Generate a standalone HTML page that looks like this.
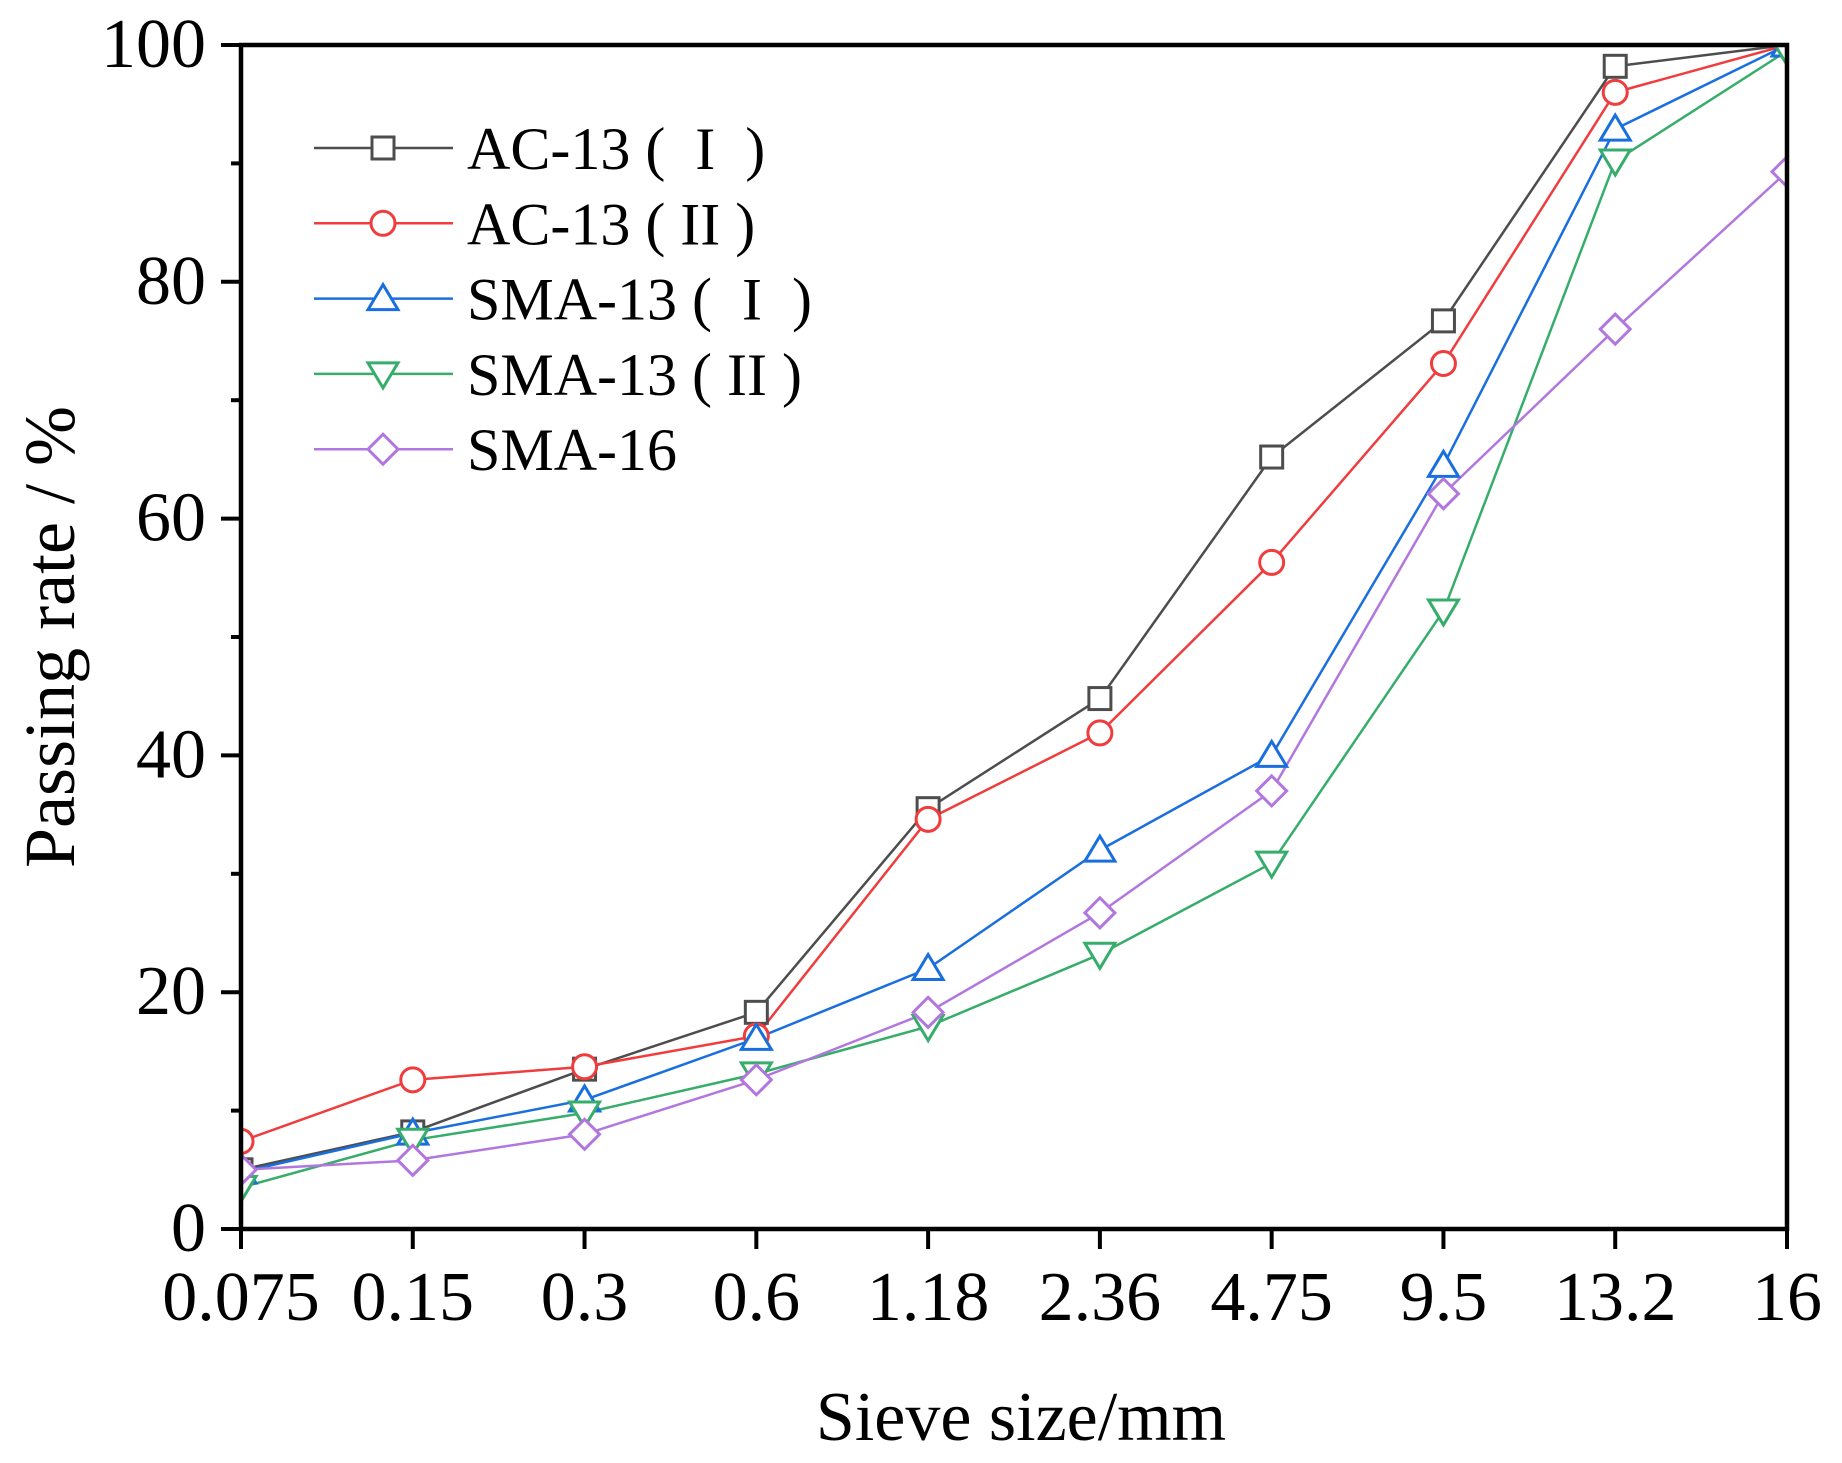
<!DOCTYPE html>
<html><head><meta charset="utf-8"><style>
html,body{margin:0;padding:0;background:#fff;}
svg{display:block;}
text{font-family:"Liberation Serif",serif;fill:#000;}
</style></head><body>
<svg id="s" width="1842" height="1463" xmlns="http://www.w3.org/2000/svg">
<defs><clipPath id="c"><rect x="243" y="47" width="1542" height="1180"/></clipPath></defs>
<g id="plot" clip-path="url(#c)"></g>
<g id="axes"></g>
</svg>
<script>
const NS="http://www.w3.org/2000/svg";
const X0=241,X1=1787,Y0=1229,Y1=45;
const xs=i=>X0+i*(X1-X0)/9, ys=v=>Y0-(v/100)*(Y0-Y1);
function el(p,t,a,txt){const e=document.createElementNS(NS,t);for(const k in a)e.setAttribute(k,a[k]);if(txt!==undefined)e.textContent=txt;p.appendChild(e);return e;}
const series=[
{n:"AC-13 (  I  )",c:"#4d4d4d",m:"sq",d:[5,8.2,13.5,18.3,35.5,44.8,65.2,76.7,98.2,100]},
{n:"AC-13 ( II )",c:"#f03c3c",m:"ci",d:[7.4,12.6,13.7,16.3,34.6,41.9,56.3,73.1,96.0,100]},
{n:"SMA-13 (  I  )",c:"#1a6fdf",m:"tu",d:[4.8,8.1,10.9,16.1,22.0,32.0,40.0,64.5,92.9,100]},
{n:"SMA-13 ( II )",c:"#37ad6b",m:"td",d:[3.5,7.5,9.8,13.1,17.1,23.2,30.9,52.2,90.2,99.5]},
{n:"SMA-16",c:"#b177de",m:"di",d:[5.0,5.8,8.0,12.6,18.3,26.7,37.0,62.1,76.0,89.3]}];
function marker(g,t,x,y,c){const a={fill:"#fff",stroke:c,"stroke-width":3};const r=11;
 if(t=="sq")el(g,"rect",Object.assign({x:x-r,y:y-r,width:2*r,height:2*r},a));
 if(t=="ci")el(g,"circle",Object.assign({cx:x,cy:y,r:r+1},a));
 if(t=="tu")el(g,"polygon",Object.assign({points:`${x},${y-14} ${x-15},${y+11} ${x+15},${y+11}`},a));
 if(t=="td")el(g,"polygon",Object.assign({points:`${x},${y+14} ${x-15},${y-11} ${x+15},${y-11}`},a));
 if(t=="di")el(g,"polygon",Object.assign({points:`${x},${y-15} ${x+15},${y} ${x},${y+15} ${x-15},${y}`},a));}
const P=document.getElementById("plot"),A=document.getElementById("axes");
series.forEach(s=>{el(P,"polyline",{points:s.d.map((v,i)=>xs(i)+","+ys(v)).join(" "),fill:"none",stroke:s.c,"stroke-width":2.5});});
series.forEach(s=>{s.d.forEach((v,i)=>marker(P,s.m,xs(i),ys(v),s.c));});
series.forEach((s,k)=>{const y=148+k*75.3;el(A,"line",{x1:314,x2:453,y1:y,y2:y,stroke:s.c,"stroke-width":2.5});marker(A,s.m,383,y,s.c);
 el(A,"text",{x:467,y:y+21,"font-size":60,"xml:space":"preserve",style:"white-space:pre"},s.n);});
el(A,"rect",{x:X0,y:Y1,width:X1-X0,height:Y0-Y1,fill:"none",stroke:"#000","stroke-width":4.5});
for(let v=0;v<=100;v+=10){const y=ys(v);const maj=v%20==0;el(A,"line",{x1:X0-(maj?20:10),x2:X0,y1:y,y2:y,stroke:"#000","stroke-width":4});
 if(maj)el(A,"text",{x:206,y:y+22,"font-size":70,"text-anchor":"end"},v);}
const labs=["0.075","0.15","0.3","0.6","1.18","2.36","4.75","9.5","13.2","16"];
labs.forEach((l,i)=>{const x=xs(i);el(A,"line",{x1:x,x2:x,y1:Y0,y2:Y0+20,stroke:"#000","stroke-width":4});
 el(A,"text",{x:x,y:1320,"font-size":70,"text-anchor":"middle"},l);});
el(A,"text",{x:1021,y:1440,"font-size":70,"text-anchor":"middle"},"Sieve size/mm");
el(A,"text",{x:0,y:0,"font-size":72,"text-anchor":"middle",transform:"translate(74,637) rotate(-90)"},"Passing rate / %");
</script>
</body></html>
